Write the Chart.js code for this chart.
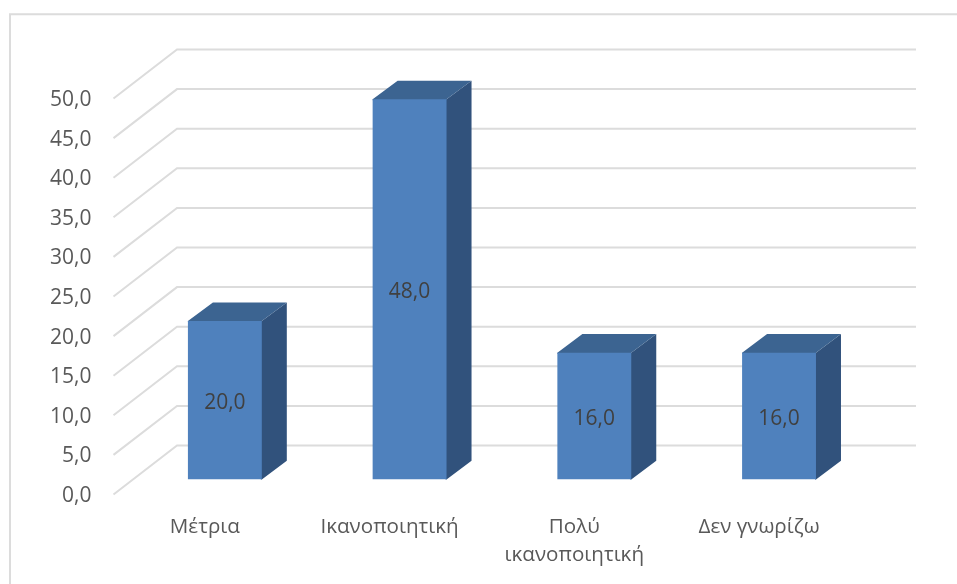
<!DOCTYPE html>
<html>
<head>
<meta charset="utf-8">
<title>Chart</title>
<script src="https://cdn.jsdelivr.net/npm/chart.js@4"></script>
<style>
    html, body { margin: 0; padding: 0; background: #fff; }
    canvas { display: block; }
</style>
</head>
<body>
<canvas id="barChart" width="957" height="584"></canvas>
<script>
const categories = ['Μέτρια', 'Ικανοποιητική', ['Πολύ', 'ικανοποιητική'], 'Δεν γνωρίζω'];
const values = [20, 48, 16, 16];
const yTicks = [0, 5, 10, 15, 20, 25, 30, 35, 40, 45, 50];

const FONT = '"Open Sans", "Noto Sans", sans-serif';
const GRID_COLOR = '#dcdcdc';

function formatValue(v) {
    return v.toFixed(1).replace('.', ',');
}

// Fake 3D: walls behind the bars, side and top faces, and value labels
const depthPlugin = {
    id: 'depth',
    beforeDatasetsDraw(chart) {
        const ctx = chart.ctx;
        const yScale = chart.scales.y;
        const bars = chart.getDatasetMeta(0).data;

        ctx.save();
        ctx.strokeStyle = GRID_COLOR;
        ctx.lineWidth = 2;
        yTicks.forEach(v => {
            const y = yScale.getPixelForValue(v);
            ctx.beginPath();
            ctx.moveTo(113.5, y + 15);
            ctx.lineTo(177, y - 34);
            ctx.lineTo(916, y - 34);
            ctx.stroke();
        });

        bars.forEach(bar => {
            const right = bar.x + bar.width / 2;
            const left = bar.x - bar.width / 2;
            const dx = 25;
            const dy = 18.7;

            // side face, starts a bit under the front so no seam shows
            ctx.fillStyle = '#31527c';
            ctx.beginPath();
            ctx.moveTo(right - 1, bar.y);
            ctx.lineTo(right, bar.y);
            ctx.lineTo(right + dx, bar.y - dy);
            ctx.lineTo(right + dx, bar.base - dy);
            ctx.lineTo(right, bar.base);
            ctx.lineTo(right - 1, bar.base);
            ctx.closePath();
            ctx.fill();

            // top face
            ctx.fillStyle = '#3c6491';
            ctx.beginPath();
            ctx.moveTo(left, bar.y + 1);
            ctx.lineTo(left, bar.y);
            ctx.lineTo(left + dx, bar.y - dy);
            ctx.lineTo(right + dx, bar.y - dy);
            ctx.lineTo(right, bar.y);
            ctx.lineTo(right, bar.y + 1);
            ctx.closePath();
            ctx.fill();
        });
        ctx.restore();
    },
    afterDatasetsDraw(chart) {
        const ctx = chart.ctx;
        const bars = chart.getDatasetMeta(0).data;

        ctx.save();
        ctx.fillStyle = '#404040';
        ctx.font = '21px ' + FONT;
        ctx.textAlign = 'center';
        ctx.textBaseline = 'middle';
        bars.forEach((bar, i) => {
            ctx.fillText(formatValue(values[i]), bar.x, (bar.y + bar.base) / 2 + 3);
        });
        ctx.restore();
    },
    beforeDraw(chart) {
        // outer frame, only the top and left edges are inside the picture
        const ctx = chart.ctx;
        ctx.save();
        ctx.strokeStyle = GRID_COLOR;
        ctx.lineWidth = 2;
        ctx.beginPath();
        ctx.moveTo(10, 584);
        ctx.lineTo(10, 14.2);
        ctx.lineTo(957, 14.2);
        ctx.stroke();
        ctx.restore();
    }
};

const ctx = document.getElementById('barChart').getContext('2d');
new Chart(ctx, {
    type: 'bar',
    data: {
        labels: categories,
        datasets: [{
            data: values,
            backgroundColor: '#4f81bd',
            barPercentage: 0.4,
            categoryPercentage: 1
        }]
    },
    options: {
        responsive: false,
        animation: false,
        layout: {
            padding: { top: 83.5, right: 85.6, bottom: 0, left: 0 }
        },
        plugins: {
            legend: { display: false },
            title: { display: false },
            tooltip: { enabled: false }
        },
        scales: {
            x: {
                grid: { display: false, drawTicks: false },
                border: { display: false },
                afterFit(scale) { scale.height = 104.5; },
                ticks: {
                    color: '#595959',
                    font: { family: FONT, size: 20.6, lineHeight: 1.37 },
                    padding: 33.5,
                    labelOffset: -20,
                    maxRotation: 0,
                    autoSkip: false
                }
            },
            y: {
                min: 0,
                max: 50,
                grid: { display: false, drawTicks: false },
                border: { display: false },
                afterFit(scale) { scale.width = 132.5; },
                afterBuildTicks(scale) { scale.ticks = yTicks.map(v => ({ value: v })); },
                ticks: {
                    color: '#595959',
                    font: { family: FONT, size: 21 },
                    padding: 41,
                    labelOffset: 16.5,
                    callback: v => formatValue(v)
                }
            }
        }
    },
    plugins: [depthPlugin]
});
</script>
</body>
</html>
